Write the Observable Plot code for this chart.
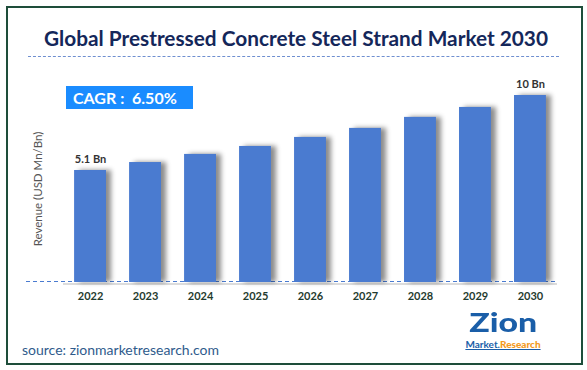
<!DOCTYPE html>
<html><head><meta charset="utf-8">
<script src="https://cdn.jsdelivr.net/npm/d3@7"></script>
<script src="https://cdn.jsdelivr.net/npm/@observablehq/plot@0.6"></script>
<style>
html,body{margin:0;background:#fff;font-family:Lato,"Open Sans",sans-serif;overflow:hidden;}
#wrap{position:relative;width:587px;height:370px;overflow:hidden;background:#fff;}
#frame{position:absolute;left:6px;top:6px;width:577px;height:359px;border:2px solid #1e4d3a;box-sizing:border-box;}
#title{position:absolute;left:0;width:592px;top:25px;text-align:center;font-weight:700;font-size:20.8px;color:#14275a;}
#tline{position:absolute;left:28px;width:531px;top:56px;border-top:1.5px dashed #6f8fd0;}
#cagr{position:absolute;left:66px;top:86px;width:127px;height:23px;background:#1a8cff;color:#fff;font-weight:700;font-size:16px;line-height:23px;box-sizing:border-box;padding-left:7px;white-space:pre;}
#chart{position:absolute;left:0;top:60px;width:587px;height:250px;}
#chart svg{max-width:none !important;}
#source{position:absolute;left:22px;top:341px;font-size:14px;color:#2f5b8c;}
#zion{position:absolute;left:461px;top:307px;width:84px;text-align:center;}
#zion span{display:inline-block;font-size:26px;font-weight:900;color:#1a5ea8;line-height:31px;transform:scale(1.3,1.05);transform-origin:center;}
#mr{position:absolute;left:458px;top:339px;width:90px;text-align:center;font-size:10px;font-weight:700;line-height:11px;text-decoration:underline;color:#1a5ea8;}
#mr b{color:#f39a1e;}
g[aria-label="bar"] rect{filter:drop-shadow(5px 0px 2.5px rgba(0,0,0,0.45));}
</style>
</head><body>
<div id="wrap">
  <div id="frame"></div>
  <div id="title">Global Prestressed Concrete Steel Strand Market 2030</div>
  <div id="tline"></div>
  <div id="cagr">CAGR :  6.50%</div>
  <div id="chart"></div>
  <div id="zion"><span>Zion</span></div>
  <div id="mr">Market.<b>Research</b></div>
  <div id="source">source: zionmarketresearch.com</div>
</div>
<script>
const years = ["2022","2023","2024","2025","2026","2027","2028","2029","2030"];
const revenue = [5.1, 5.62, 6.15, 6.67, 7.26, 7.85, 8.57, 9.22, 10];
const valueLabels = ["5.1 Bn","","","","","","","","10 Bn"];
const yAxisTitle = "Revenue (USD Mn/Bn)";
const yMin = -2.22;

const data = years.map((y, i) => ({year: y, value: revenue[i], label: valueLabels[i]}));

const chart = Plot.plot({
  width: 587, height: 250,
  marginLeft: 51, marginRight: 18, marginTop: 35, marginBottom: 28,
  style: {background: "transparent", fontFamily: "Lato, 'Open Sans', sans-serif", maxWidth: "none"},
  x: {domain: years, padding: 0.42, round: false, axis: null},
  y: {domain: [yMin, 10], axis: null},
  marks: [
    Plot.ruleY([yMin], {stroke: "#d0d0d0", strokeWidth: 1.5, insetLeft: 12, insetRight: 12, dy: 1.5}),
    Plot.ruleY([yMin], {stroke: "#4a7bd0", strokeDasharray: "4,3", strokeWidth: 1, insetLeft: -25, insetRight: 12, dy: -1}),
    Plot.barY(data, {x: "year", y1: yMin, y2: "value", fill: "#4a7bd0"}),
    Plot.text(data, {x: "year", y: "value", text: "label", dy: -11, fill: "#333", fontSize: 11, fontWeight: 700}),
    Plot.axisX({tickSize: 0, tickPadding: 10, fontSize: 11, fontWeight: 700, color: "#1f3b2e", label: null}),
    Plot.text([yAxisTitle], {frameAnchor: "left", textAnchor: "middle", rotate: -90, dx: -13, fill: "#555", fontSize: 11.5})
  ]
});
document.getElementById("chart").appendChild(chart);
</script>
</body></html>
